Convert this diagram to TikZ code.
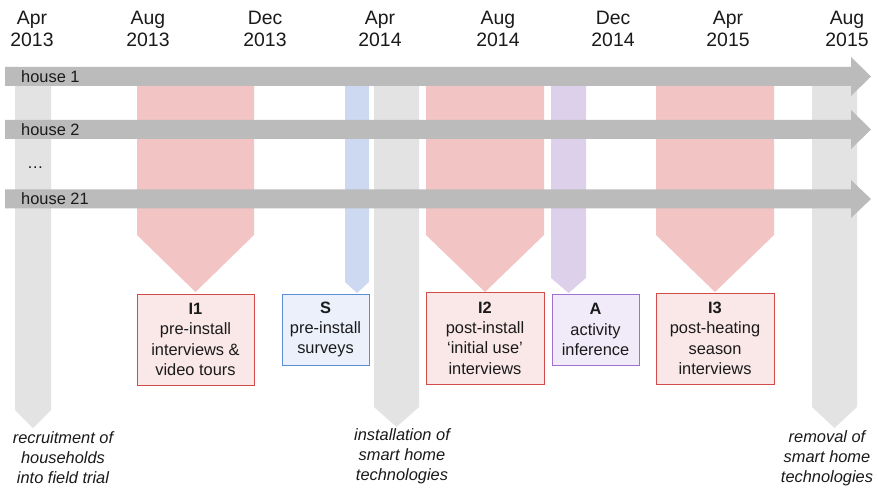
\documentclass[tikz,border=0pt]{standalone}
\usepackage{fontspec}
\setmainfont{Liberation Sans}
\definecolor{barc}{HTML}{BBBBBB}
\definecolor{greyband}{HTML}{E3E3E3}
\definecolor{pinkband}{HTML}{F2C4C4}
\definecolor{blueband}{HTML}{CCD9F0}
\definecolor{purpleband}{HTML}{DDD0EB}
\definecolor{pinkfill}{HTML}{FAE7E8}
\definecolor{pinkline}{HTML}{D24B4B}
\definecolor{bluefill}{HTML}{EBF0FB}
\definecolor{blueline}{HTML}{5A8ED6}
\definecolor{purplefill}{HTML}{F1EBF9}
\definecolor{purpleline}{HTML}{A072CF}
\definecolor{txt}{HTML}{1A1A1A}
\begin{document}
\begin{tikzpicture}[x=1pt,y=-1pt,
  date/.style={align=center,inner sep=0pt,text=txt,font=\fontsize{19.4}{22}\selectfont},
  hlabel/.style={anchor=west,inner sep=0pt,text=txt,font=\fontsize{16.4}{20}\selectfont},
  box/.style={align=center,inner sep=0pt,line width=1pt,text=txt,font=\fontsize{16.4}{20.4}\selectfont},
  pinkbox/.style={box,fill=pinkfill,draw=pinkline},
  bluebox/.style={box,fill=bluefill,draw=blueline},
  purplebox/.style={box,fill=purplefill,draw=purpleline},
  note/.style={align=center,inner sep=0pt,text=txt,font=\fontsize{16.4}{20}\selectfont\itshape},
  housebar/.style={fill=barc,draw=none}]
\useasboundingbox (0,0) rectangle (878,489);
\fill[white] (0,0) rectangle (878,489);

% vertical bands (chevrons)
\fill[greyband]   (15,76) -- (51,76) -- (51,410) -- (33,428) -- (15,410) -- cycle;
\fill[pinkband]   (137,76) -- (254,76) -- (254,235) -- (195.5,292) -- (137,235) -- cycle;
\fill[blueband]   (345,76) -- (369,76) -- (369,282) -- (357,293) -- (345,282) -- cycle;
\fill[greyband]   (374,76) -- (419,76) -- (419,407) -- (396.5,427) -- (374,407) -- cycle;
\fill[pinkband]   (426,76) -- (544,76) -- (544,235) -- (485,292) -- (426,235) -- cycle;
\fill[purpleband] (551,76) -- (586,76) -- (586,278) -- (568.5,293) -- (551,278) -- cycle;
\fill[pinkband]   (656,76) -- (774,76) -- (774,235) -- (715,292) -- (656,235) -- cycle;
\fill[greyband]   (812,76) -- (857,76) -- (857,407) -- (834.5,428) -- (812,407) -- cycle;

% house arrows
\fill[housebar] (5,67) -- (851,67) -- (851,57) -- (871,76.5) -- (851,96) -- (851,86) -- (5,86) -- cycle;
\fill[housebar] (5,120) -- (851,120) -- (851,110) -- (871,129.5) -- (851,149) -- (851,139) -- (5,139) -- cycle;
\fill[housebar] (5,189.5) -- (851,189.5) -- (851,180) -- (871,199) -- (851,218) -- (851,208.5) -- (5,208.5) -- cycle;
\node[hlabel] (h1) at (21,76.5) {house 1};
\node[hlabel] (h2) at (21,129.5) {house 2};
\node[hlabel] (hd) at (27,168) {\dots};
\node[hlabel] (h21) at (21,199) {house 21};

% dates
\node[date] (d1) at (32,29) {Apr\\2013};
\node[date] (d2) at (148,29) {Aug\\2013};
\node[date] (d3) at (265,29) {Dec\\2013};
\node[date] (d4) at (380,29) {Apr\\2014};
\node[date] (d5) at (498,29) {Aug\\2014};
\node[date] (d6) at (613,29) {Dec\\2014};
\node[date] (d7) at (728,29) {Apr\\2015};
\node[date] (d8) at (847,29) {Aug\\2015};

% boxes
\node[pinkbox,minimum width=117pt,minimum height=91pt] (i1) at (195.5,339.5) {\textbf{I1}\\pre-install\\interviews \&\\video tours};
\node[bluebox,minimum width=87pt,minimum height=71pt] (s) at (325.5,329.5) {\textbf{S}\\pre-install\\surveys};
\node[pinkbox,minimum width=118pt,minimum height=92pt] (i2) at (485,338) {\textbf{I2}\\post-install\\‘initial use’\\interviews};
\node[purplebox,minimum width=87pt,minimum height=71pt] (a) at (595.5,329.5) {\textbf{A}\\activity\\inference};
\node[pinkbox,minimum width=118pt,minimum height=91pt] (i3) at (715,338.5) {\textbf{I3}\\post-heating\\season\\interviews};

% notes
\node[note] (n1) at (63,458) {recruitment of\\households\\into field trial};
\node[note] (n2) at (402,456) {installation of\\smart home\\technologies};
\node[note] (n3) at (827,458) {removal of\\smart home\\technologies};
\end{tikzpicture}
\end{document}
